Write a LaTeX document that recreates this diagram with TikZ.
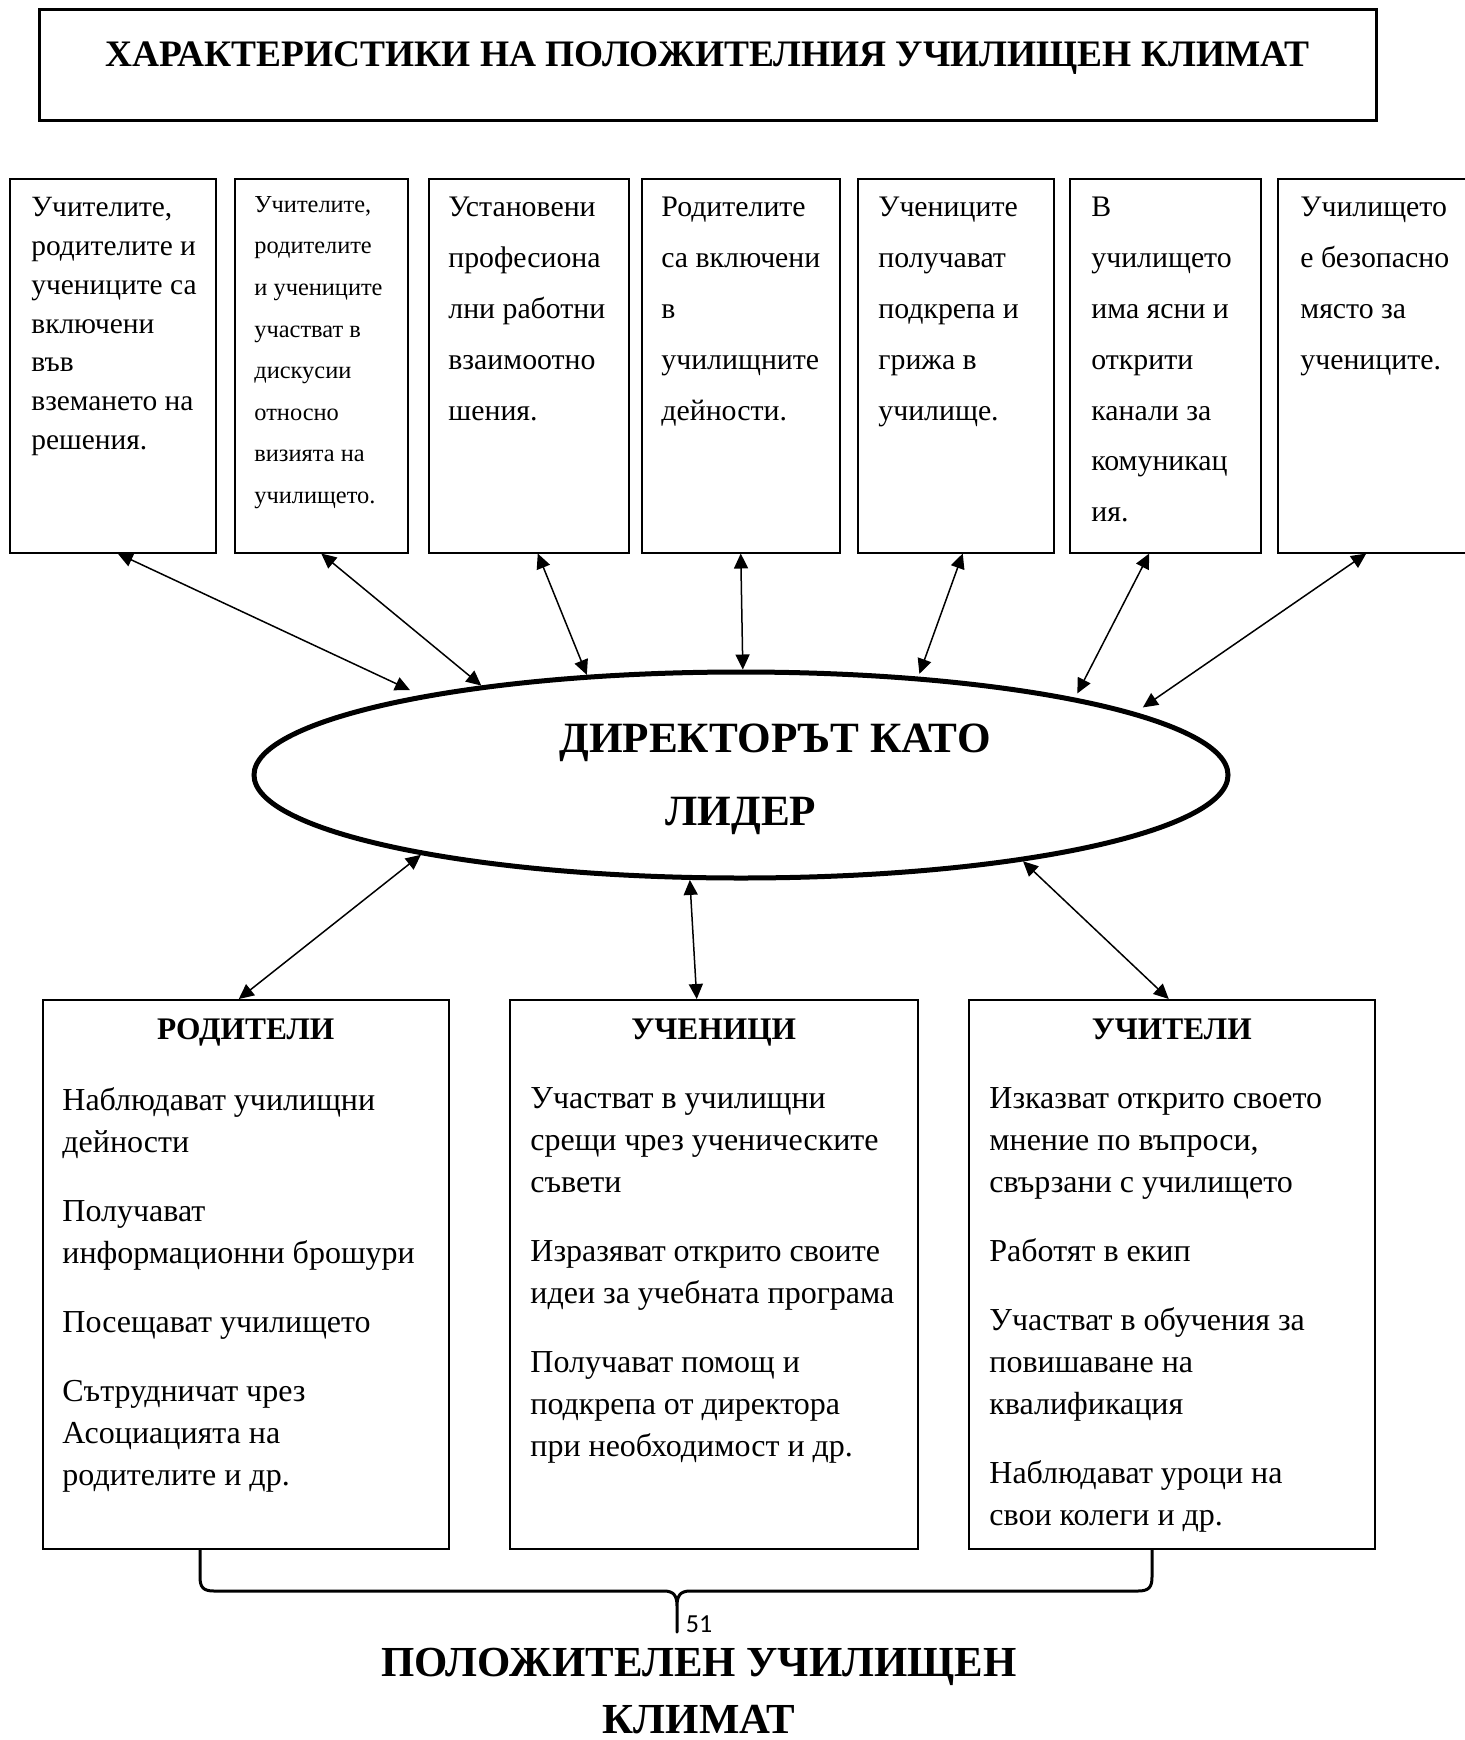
\documentclass[tikz,border=0pt]{standalone}
\usepackage{fontspec}
\setmainfont{Liberation Serif}
\newfontfamily\pagenumfont{Carlito}
\usetikzlibrary{shapes.geometric,arrows.meta}

\tikzset{
  topbox/.style={draw, line width=0.75pt, anchor=north west, inner sep=0pt, minimum height=187pt},
  toptext/.style={anchor=north west, inner sep=0pt, align=left, font=\fontsize{14.9}{25.4}\selectfont},
  groupbox/.style={draw, line width=0.75pt, anchor=north west, inner sep=0pt, minimum height=274.5pt},
  grouphead/.style={anchor=base, inner sep=0pt, font=\bfseries\fontsize{15.7}{19}\selectfont},
  grouptext/.style={anchor=north west, inner sep=0pt, align=left, font=\fontsize{16}{21}\selectfont},
  link/.style={<->, line width=0.75pt},
  bracket/.style={line width=1.5pt, line join=round},
}

\begin{document}
\begin{tikzpicture}[x=0.5pt, y=-0.5pt, >={Triangle[length=7.5pt,width=7pt]}]
    \useasboundingbox (0,0) rectangle (1465,1740);

    \node[draw, line width=1.5pt, minimum width=668.5pt, minimum height=55.5pt, inner sep=0pt, text height=14pt, text depth=12pt, font=\bfseries\fontsize{18.7}{24}\selectfont] (title) at (707.5,64.5) {ХАРАКТЕРИСТИКИ НА ПОЛОЖИТЕЛНИЯ УЧИЛИЩЕН КЛИМАТ};

    % characteristics
    \node[topbox, minimum width=103pt] (decide) at (9,178) {};
    \node[topbox, minimum width=86.5pt] (voice) at (234,178) {};
    \node[topbox, minimum width=100pt] (relations) at (428,178) {};
    \node[topbox, minimum width=99pt] (involve) at (641,178) {};
    \node[topbox, minimum width=98pt] (support) at (857,178) {};
    \node[topbox, minimum width=95.5pt] (channels) at (1069,178) {};
    \node[topbox, minimum width=96.5pt] (safety) at (1277,178) {};

    \node[toptext, font=\fontsize{14.7}{19.4}\selectfont] (decidetxt) at ([xshift=11pt,yshift=-9.5pt]decide.north west) {Учителите,\\родителите и\\учениците са\\включени\\във\\вземането на\\решения.};
    \node[toptext, font=\fontsize{12.2}{20.8}\selectfont] (voicetxt) at ([xshift=10pt,yshift=-9pt]voice.north west) {Учителите,\\родителите\\и учениците\\участват в\\дискусии\\относно\\визията на\\училището.};
    \node[toptext] (relationstxt) at ([xshift=10pt,yshift=-9.5pt]relations.north west) {Установени\\професиона\\лни работни\\взаимоотно\\шения.};
    \node[toptext] (involvetxt) at ([xshift=10pt,yshift=-9.5pt]involve.north west) {Родителите\\са включени\\в\\училищните\\дейности.};
    \node[toptext] (supporttxt) at ([xshift=10.5pt,yshift=-9.5pt]support.north west) {Учениците\\получават\\подкрепа и\\грижа в\\училище.};
    \node[toptext] (channelstxt) at ([xshift=11pt,yshift=-9.5pt]channels.north west) {В\\училището\\има ясни и\\открити\\канали за\\комуникац\\ия.};
    \node[toptext] (safetytxt) at ([xshift=11.5pt,yshift=-9.5pt]safety.north west) {Училището\\е безопасно\\място за\\учениците.};

    \node[draw, ellipse, line width=2.5pt, minimum width=487pt, minimum height=103pt, inner sep=0pt, align=center, font=\bfseries\fontsize{21.6}{36.5}\selectfont] (leader) at (741,775) {\rule{0pt}{18.7pt}\hspace*{34pt}ДИРЕКТОРЪТ КАТО\\ЛИДЕР};

    % groups
    \node[groupbox, minimum width=203pt] (parents) at (42,999) {};
    \node[groupbox, minimum width=204pt] (pupils) at (509,999) {};
    \node[groupbox, minimum width=203pt] (teachers) at (968,999) {};

    \node[grouphead] (parentshead) at ([yshift=-20pt]parents.north) {РОДИТЕЛИ};
    \node[grouphead] (pupilshead) at ([yshift=-20pt]pupils.north) {УЧЕНИЦИ};
    \node[grouphead] (teachershead) at ([yshift=-20pt]teachers.north) {УЧИТЕЛИ};

    \node[grouptext] (parentstxt) at ([xshift=10pt,yshift=-44pt]parents.north west) {Наблюдават училищни\\дейности\\[13.5pt]Получават\\информационни брошури\\[13.5pt]Посещават училището\\[13.5pt]Сътрудничат чрез\\Асоциацията на\\родителите и др.};
    \node[grouptext] (pupilstxt) at ([xshift=10.5pt,yshift=-44pt]pupils.north west) {Участват в училищни\\срещи чрез ученическите\\съвети\\[13.5pt]Изразяват открито своите\\идеи за учебната програма\\[13.5pt]Получават помощ и\\подкрепа от директора\\при необходимост и др.};
    \node[grouptext] (teacherstxt) at ([xshift=10.5pt,yshift=-44pt]teachers.north west) {Изказват открито своето\\мнение по въпроси,\\свързани с училището\\[13.5pt]Работят в екип\\[13.5pt]Участват в обучения за\\повишаване на\\квалификация\\[13.5pt]Наблюдават уроци на\\свои колеги и др.};

    \draw[link, shorten >=6pt] ([xshift=2.5pt]decide.south) -- (leader.166.5);
    \draw[link] (voice.south) -- (leader.161.6);
    \draw[link] ([xshift=4.5pt]relations.south) -- (leader.147.6);
    \draw[link] (involve.south) -- (leader.89);
    \draw[link, shorten >=1.5pt] ([xshift=3.5pt]support.south) -- (leader.29.2);
    \draw[link, shorten >=2.5pt] ([xshift=-8pt]channels.south) -- (leader.13.2);
    \draw[link, shorten >=4.5pt] ([xshift=-4pt]safety.south) -- (leader.9.7);

    \draw[link] ([xshift=-3.5pt]parents.north) -- (leader.194.1);
    \draw[link] ([xshift=-8.5pt]pupils.north) -- (leader.244.9);
    \draw[link] ([xshift=-1.5pt]teachers.north) -- (leader.343.2);

    \draw[bracket] (200,1548) -- (200,1577) .. controls (200,1587) and (203,1591) .. (214,1591) -- (664,1591) .. controls (674,1591) and (677,1596) .. (677,1606) -- (677,1632) -- (677,1606) .. controls (677,1596) and (680,1591) .. (690,1591) -- (1138,1591) .. controls (1149,1591) and (1152,1587) .. (1152,1577) -- (1152,1548);

    \node[font=\pagenumfont\fontsize{13}{15}\selectfont] (pagenum) at (699,1624) {51};
    \node[align=center, inner sep=0pt, text depth=0pt, anchor=south, font=\bfseries\fontsize{21.4}{28.6}\selectfont] (climate) at (699,1734) {ПОЛОЖИТЕЛЕН УЧИЛИЩЕН\\КЛИМАТ};

\end{tikzpicture}
\end{document}
